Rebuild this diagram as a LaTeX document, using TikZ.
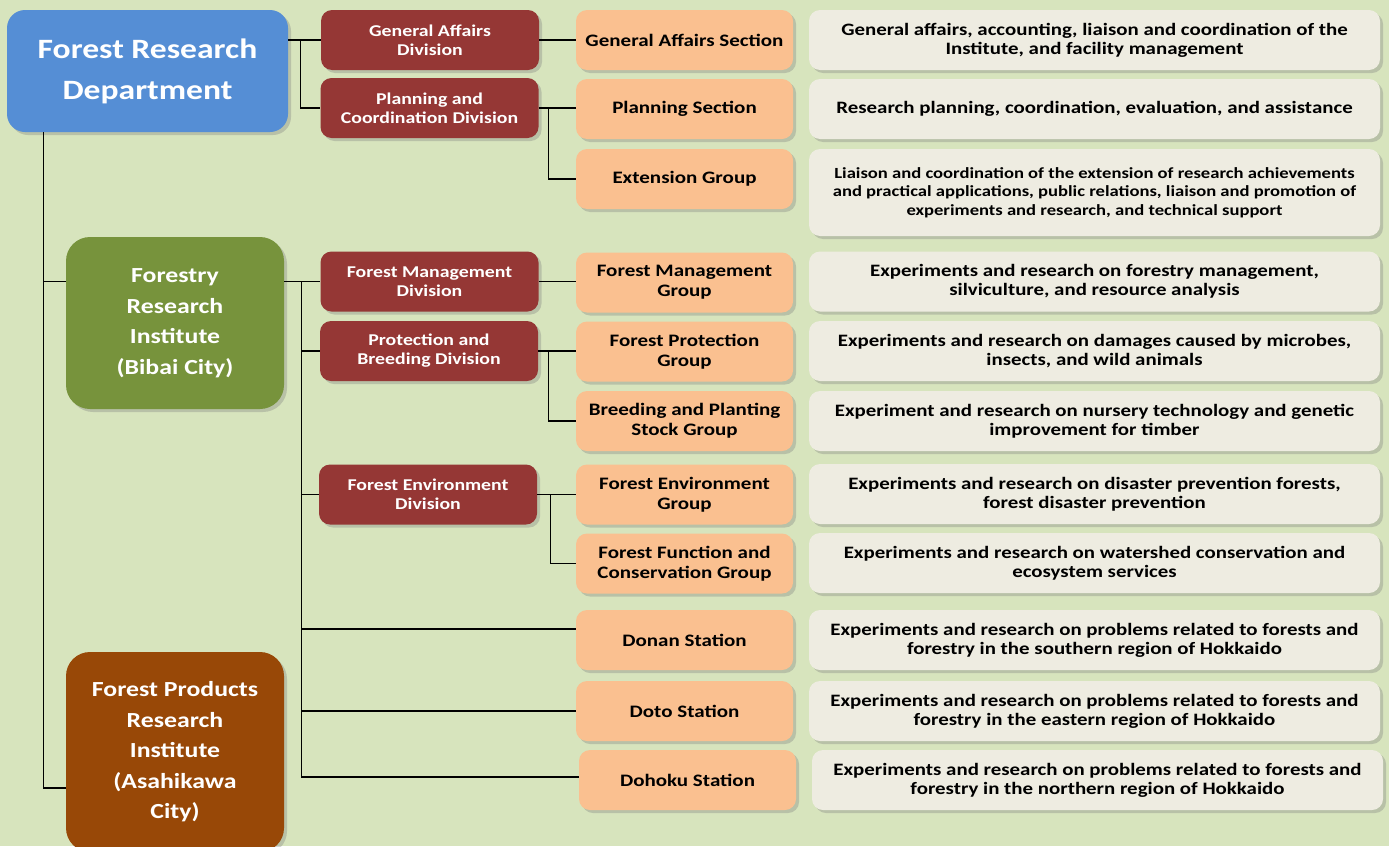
\documentclass[tikz,border=0pt]{standalone}
\usepackage{fontspec}
\setmainfont{Carlito}[FakeStretch=1.2]
\usetikzlibrary{shadows}
\definecolor{bgreen}{HTML}{D7E4BD}
\definecolor{deptblue}{HTML}{558ED5}
\definecolor{instgreen}{HTML}{77933C}
\definecolor{instbrown}{HTML}{984807}
\definecolor{divred}{HTML}{953735}
\definecolor{sectorange}{HTML}{FAC090}
\definecolor{descgrey}{HTML}{EEECE1}
\begin{document}
\begin{tikzpicture}[x=1pt, y=-1pt,
    box/.style={rounded corners=11pt, align=center, inner sep=0pt,
        font=\bfseries, drop shadow={opacity=0.35, shadow xshift=3pt, shadow yshift=-3pt}},
    deptbox/.style={box, fill=deptblue, text=white, minimum width=281pt, minimum height=122pt,
        rounded corners=18pt, font=\bfseries\fontsize{28}{41}\selectfont},
    instbox/.style={box, fill=#1, text=white, minimum width=218pt, rounded corners=24pt,
        font=\bfseries\fontsize{21.5}{30.5}\selectfont},
    divbox/.style={box, fill=divred, text=white, minimum width=218pt, minimum height=60pt,
        font=\bfseries\fontsize{16.5}{19}\selectfont},
    sectbox/.style={box, fill=sectorange, minimum width=217pt, minimum height=60pt,
        font=\bfseries\fontsize{17.5}{20}\selectfont},
    descbox/.style={box, fill=descgrey, minimum width=571pt, minimum height=60pt,
        font=\bfseries\fontsize{17.4}{19}\selectfont},
    link/.style={line width=1.3pt}]

    \fill[bgreen] (0,0) rectangle (1389,846);
    \clip (0,0) rectangle (1389,846);

    % department and institutes
    \node[deptbox] (dept) at (147.5,71) {Forest Research\\Department};
    \node[instbox=instgreen, minimum height=172pt] (fri) at (175,323)
        {Forestry\\Research\\Institute\\(Bibai City)};
    \node[instbox=instbrown, minimum height=200pt] (fpri) at (175,752)
        {Forest Products\\Research\\Institute\\(Asahikawa\\City)};

    % divisions
    \node[divbox] (gad) at (430,40) {General Affairs\\Division};
    \node[divbox] (pcd) at (429.5,108) {Planning and\\Coordination Division};
    \node[divbox] (fmd) at (429.5,281.5) {Forest Management\\Division};
    \node[divbox] (pbd) at (429,351) {Protection and\\Breeding Division};
    \node[divbox] (fed) at (428,494.5) {Forest Environment\\Division};

    % sections, groups and stations
    \node[sectbox] (gas) at (684.5,40) {General Affairs Section};
    \node[sectbox] (ps) at (684.5,109) {Planning Section};
    \node[sectbox] (eg) at (684.5,179) {Extension Group};
    \node[sectbox] (fmg) at (684.5,282.5) {Forest Management\\Group};
    \node[sectbox] (fpg) at (684.5,351.5) {Forest Protection\\Group};
    \node[sectbox] (bpg) at (684.5,421) {Breeding and Planting\\Stock Group};
    \node[sectbox] (feg) at (684.5,494.5) {Forest Environment\\Group};
    \node[sectbox] (ffg) at (684.5,563.5) {Forest Function and\\Conservation Group};
    \node[sectbox] (donan) at (684.5,640) {Donan Station};
    \node[sectbox] (doto) at (684.5,711) {Doto Station};
    \node[sectbox] (dohoku) at (687.5,780) {Dohoku Station};

    % duties
    \node[descbox] (dgas) at (1094.5,40)
        {General affairs, accounting, liaison and coordination of the\\Institute, and facility management};
    \node[descbox] (dps) at (1094.5,109)
        {Research planning, coordination, evaluation, and assistance};
    \node[descbox, minimum height=87pt, font=\bfseries\fontsize{15.5}{18.5}\selectfont] (deg) at (1094.5,192.5)
        {Liaison and coordination of the extension of research achievements\\and practical applications, public relations, liaison and promotion of\\experiments and research, and technical support};
    \node[descbox] (dfmg) at (1094.5,281.5)
        {Experiments and research on forestry management,\\silviculture, and resource analysis};
    \node[descbox] (dfpg) at (1094.5,351)
        {Experiments and research on damages caused by microbes,\\insects, and wild animals};
    \node[descbox] (dbpg) at (1094.5,421)
        {Experiment and research on nursery technology and genetic\\improvement for timber};
    \node[descbox] (dfeg) at (1094.5,494)
        {Experiments and research on disaster prevention forests,\\forest disaster prevention};
    \node[descbox] (dffg) at (1094.5,563)
        {Experiments and research on watershed conservation and\\ecosystem services};
    \node[descbox] (ddonan) at (1094.5,640)
        {Experiments and research on problems related to forests and\\forestry in the southern region of Hokkaido};
    \node[descbox] (ddoto) at (1094.5,711)
        {Experiments and research on problems related to forests and\\forestry in the eastern region of Hokkaido};
    \node[descbox] (ddohoku) at (1097.5,780)
        {Experiments and research on problems related to forests and\\forestry in the northern region of Hokkaido};

    % connectors
    \coordinate (trunk) at ([xshift=37pt]dept.south west);
    \draw[link] (trunk) |- (fri.west |- fmd.west);
    \draw[link] (trunk) |- ([yshift=-36pt]fpri.west);

    \draw[link] (dept.east |- gad.west) -- (gad.west);
    \draw[link] ([xshift=-20pt]gad.west) |- (pcd.west);

    \draw[link] (fri.east |- fmd.west) -- (fmd.west);
    \draw[link] ([xshift=-19pt]fmd.west) |- (pbd.west);
    \draw[link] ([xshift=-19pt]fmd.west) |- (fed.west);
    \draw[link] ([xshift=-19pt]fmd.west) |- ([yshift=11pt]donan.west);
    \draw[link] ([xshift=-19pt]fmd.west) |- (doto.west);
    \draw[link] ([xshift=-19pt]fmd.west) |- ([yshift=3pt]dohoku.west);

    \foreach \d/\s in {gad/gas, pcd/ps, fmd/fmg, pbd/fpg, fed/feg}
        \draw[link] (\d.east) -- (\d.east -| \s.west);
    \draw[link] ([xshift=10pt]pcd.east) |- (eg.west);
    \draw[link] ([xshift=10pt]pbd.east) |- (bpg.west);
    \draw[link] ([xshift=13pt]fed.east) |- (ffg.west);
\end{tikzpicture}
\end{document}
